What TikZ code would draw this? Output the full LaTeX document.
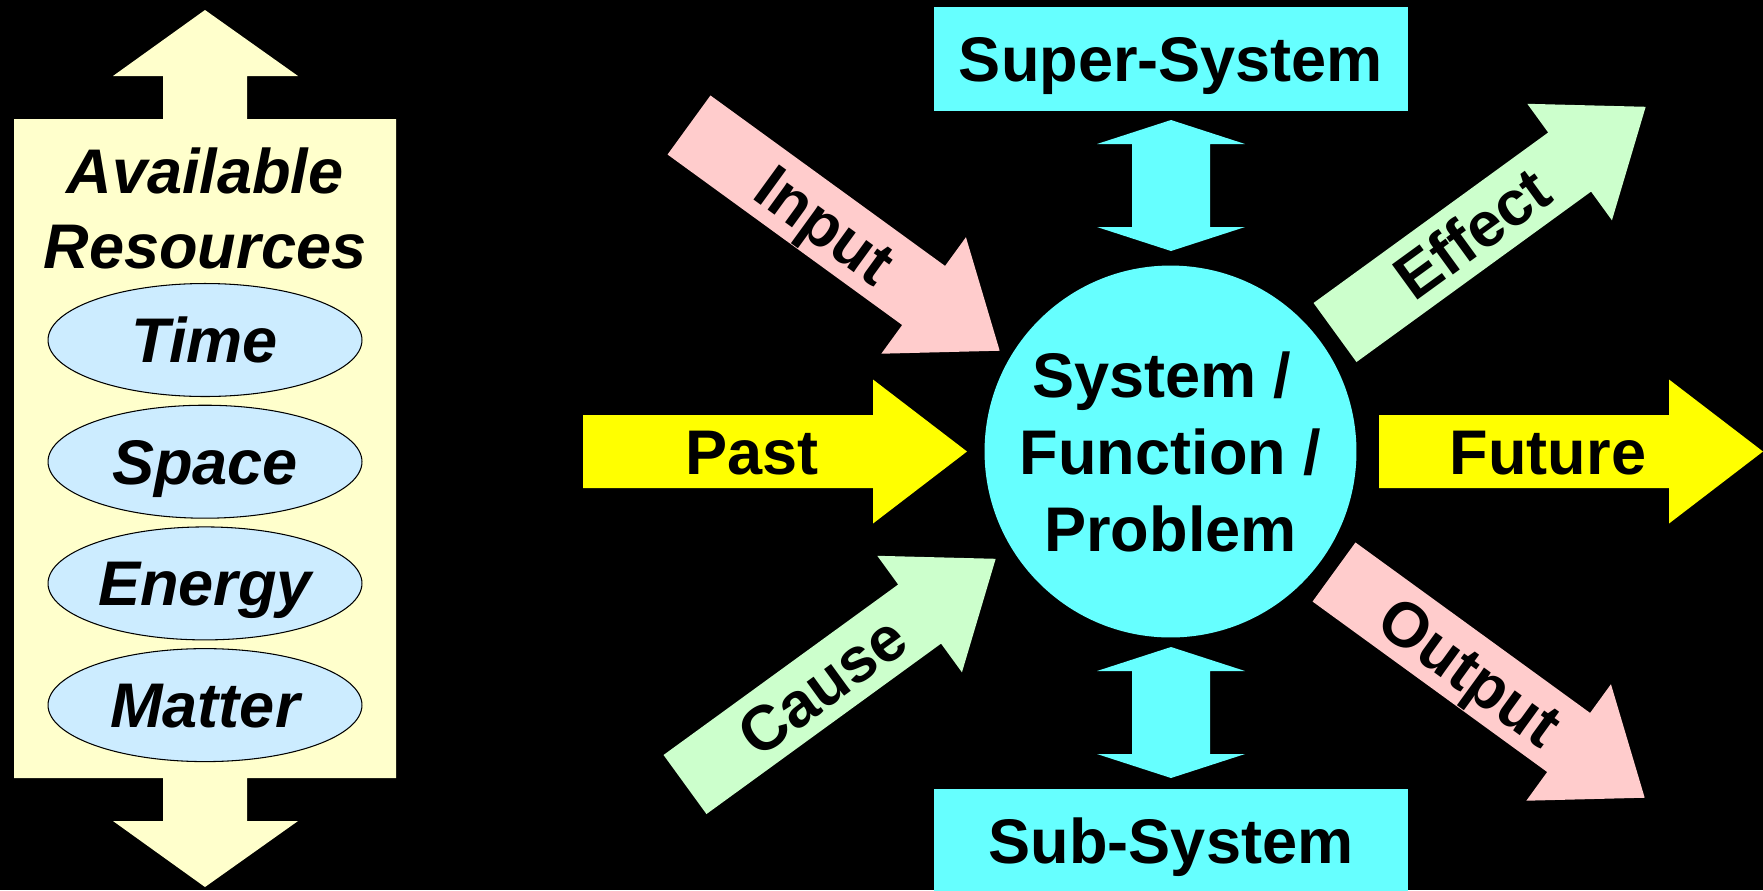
\documentclass[tikz,border=0pt]{standalone}
\usepackage{fontspec}
\setmainfont{Liberation Sans}
\usetikzlibrary{shapes.geometric}
\definecolor{rescream}{RGB}{255,255,204}
\definecolor{resblue}{RGB}{204,236,255}
\definecolor{syscyan}{RGB}{102,255,255}
\definecolor{inpink}{RGB}{255,204,204}
\definecolor{effgreen}{RGB}{204,255,204}
\definecolor{timeyel}{RGB}{255,255,0}
\newcommand\diagfont{\fontsize{35.9}{43.8}\selectfont\bfseries}

\begin{document}
\begin{tikzpicture}[
    x=0.02cm, y=-0.02cm,
    tag/.style={font=\diagfont, text height=0.9cm, text depth=0pt, inner sep=0pt},
    resource/.style={ellipse, draw=black, line width=0.6pt, fill=resblue,
      minimum width=6.28cm, minimum height=2.26cm, inner sep=0pt,
      font=\diagfont\itshape, text height=0.9cm, text depth=0pt},
    sysbox/.style={rectangle, fill=syscyan, minimum width=9.48cm,
      minimum height=2.08cm, tag},
  ]
  \useasboundingbox (0,0) rectangle (1763,890);
  \fill[black] (0,0) rectangle (1763,890);

  %% ---------------- available resources ----------------
  \fill[rescream] (14,119) -- (163,119) -- (163,76) -- (113,76) -- (205,10)
    -- (298,76) -- (247,76) -- (247,119) -- (396,119) -- (396,778)
    -- (247,778) -- (247,821) -- (298,821) -- (205,887) -- (113,821)
    -- (163,821) -- (163,778) -- (14,778) -- cycle;
  \node[font=\fontsize{35.9}{42.7}\selectfont\bfseries\itshape, align=center,
        inner sep=0pt] (avail) at (205,208) {Available\\Resources};
  \foreach \txt [count=\i from 0] in {Time,Space,Energy,Matter} {
    \node[resource] (res\i) at (205,{340+121.7*\i}) {\txt};
  }

  %% ---------------- block arrows ----------------
  \foreach \nm/\lab/\tx/\ty/\ang/\col in {
      past/Past/583/451.5/0/timeyel, future/Future/1379/451.5/0/timeyel,
      input/Input/689/125/-36/inpink, output/Output/1334/572/-36/inpink,
      effect/Effect/1335/332.5/36/effgreen, cause/Cause/685/784.5/36/effgreen} {
    \begin{scope}[shift={(\tx,\ty)}, rotate=\ang]
      \fill[\col] (0,-36.5) -- (290,-36.5) -- (290,-72) -- (384,0)
        -- (290,72) -- (290,36.5) -- (0,36.5) -- cycle;
      \node[tag, rotate=\ang] (\nm) at (169,0) {\lab};
    \end{scope}
  }

  %% ---------------- system and its neighbours ----------------
  \node[circle, fill=syscyan, minimum size=7.44cm, inner sep=0pt,
        font=\diagfont, align=center] (sys) at (1170.5,451.5)
        {System /\hspace*{0.35cm}\\Function /\\Problem};
  \foreach \dy in {0,527} {
    \fill[syscyan, shift={(0,\dy)}] (1171,120) -- (1245,144) -- (1210,144)
      -- (1210,227) -- (1245,227) -- (1171,251) -- (1097,227) -- (1132,227)
      -- (1132,144) -- (1097,144) -- cycle;
  }
  \node[sysbox] (super) at (1171,59) {Super-System};
  \node[sysbox] (sub) at (1171,841) {Sub-System};

\end{tikzpicture}
\end{document}
